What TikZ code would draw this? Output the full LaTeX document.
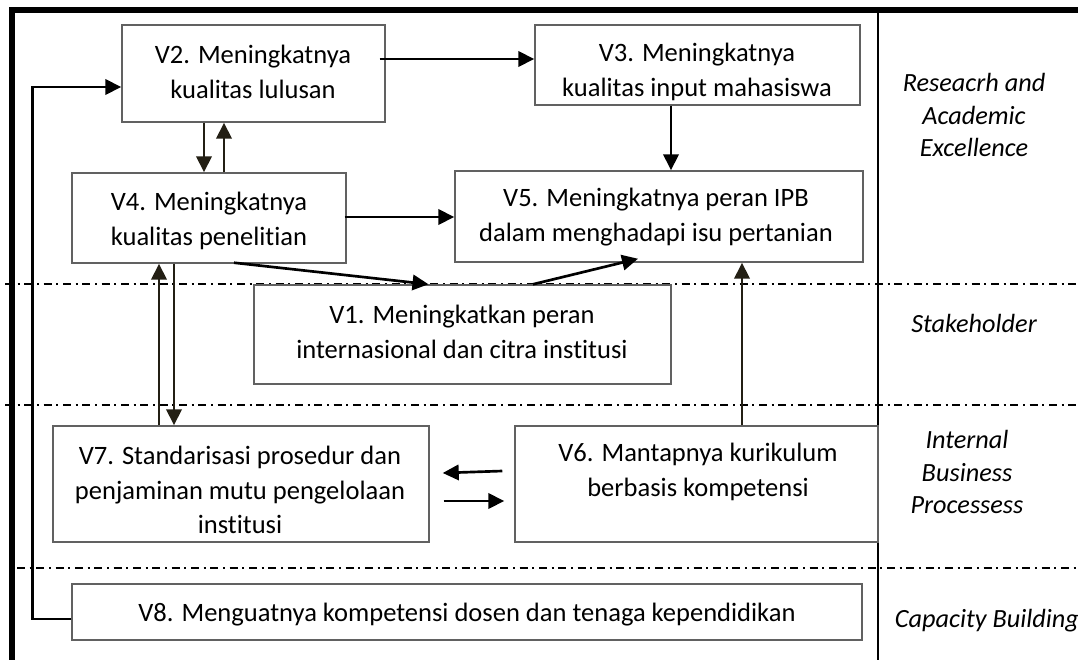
\documentclass[tikz,border=0pt]{standalone}
\usepackage{fontspec}
\setmainfont{Carlito}[Ligatures=NoCommon]
\usetikzlibrary{arrows.meta,fit,calc}
\definecolor{arrowdark}{HTML}{231F14}
\begin{document}
\begin{tikzpicture}[x=0.75pt,y=-0.75pt,
  box/.style={draw=black!62,line width=1.1pt,inner sep=0pt},
  lbl/.style={align=center,inner sep=0pt,font=\fontsize{19.9}{26}\selectfont},
  side/.style={align=center,inner sep=0pt,font=\fontsize{19.7}{24.5}\selectfont\itshape},
  link/.style={line width=2pt,-{Triangle[length=12pt,width=11.5pt]}},
  darklink/.style={line width=2pt,draw=arrowdark,-{Triangle[length=12pt,width=11.5pt,fill=arrowdark]}},
  lane/.style={line width=1.4pt,dash pattern=on 6pt off 3.5pt on 1.5pt off 3.5pt},
]
\useasboundingbox[fill=white] (0,0) rectangle (1078,660);

% perspective lanes
\draw[lane] (5,284) -- (1078,284);
\draw[lane] (5,405) -- (1078,405);
\draw[lane] (17,568) -- (1078,568);

% outer frame and column divider
\draw[line width=3.8pt] (12,660) -- (12,10) -- (1078,10);
\draw[line width=1.7pt] (878,10) -- (878,660);

% objective boxes
\node[box,fit={(122,25) (385,122)}] (v2) {};
\node[box,fit={(535,25) (860,105)}] (v3) {};
\node[box,fit={(72,173) (346,263)}] (v4) {};
\node[box,fit={(455,171) (863,262)}] (v5) {};
\node[box,fit={(254,285) (671,384)}] (v1) {};
\node[box,fit={(53,426) (429,542)}] (v7) {};
\node[box,fit={(515,426) (878,542)}] (v6) {};
\node[box,fit={(72,584) (862,640)}] (v8) {};

% objective texts
\node[lbl] (t2) at (253,72) {V2. Meningkatnya\\kualitas lulusan};
\node[lbl] (t3) at (697,72) {V3. Meningkatnya\\kualitas input mahasiswa};
\node[lbl] (t4) at (209,221) {V4. Meningkatnya\\kualitas penelitian};
\node[lbl] (t5) at (656,217) {V5. Meningkatnya peran IPB\\dalam menghadapi isu pertanian};
\node[lbl] (t1) at (462,332) {V1. Meningkatkan peran\\internasional dan citra institusi};
\node[lbl] (t7) at (240,490) {V7. Standarisasi prosedur dan\\penjaminan mutu pengelolaan\\institusi};
\node[lbl] (t6) at (698,472) {V6. Mantapnya kurikulum\\berbasis kompetensi};
\node[lbl] (t8) at (467,615) {V8. Menguatnya kompetensi dosen dan tenaga kependidikan};

% perspective names
\node[side] (p1) at (974,115) {Reseacrh and\\Academic\\Excellence};
\node[side] (p2) at (974,323) {Stakeholder};
\node[side] (p3) at (967,472) {Internal\\Business\\Processess};
\node[side] (p4) at (987,621) {Capacity Building};

% causal links
\draw[link] ($(v2.east)+(-6,-14.5)$) -- ($(v3.west)+(0,-6)$);
\draw[link] ($(v8.west)+(0,7)$) -- ++(-39,0) |- ($(v2.west)+(0,13.5)$);
\draw[darklink] ($(v2.south)+(-49.5,0)$) -- ($(v4.north)+(-5,0)$);
\draw[darklink] ($(v4.north)+(15,0)$) -- ($(v2.south)+(-29.5,0)$);
\draw[link] ($(v3.south)+(-26.5,0)$) -- ($(v5.north)+(12,0)$);
\draw[link] ($(v4.east)+(-2,-1)$) -- ($(v5.west)+(0,0.5)$);
\draw[link] ($(v4.south)+(25,-1)$) -- ($(v1.north)+(-34,0)$);
\draw[link] ($(v1.north)+(70.5,0)$) -- ($(v5.south)+(-21,-4)$);
\draw[darklink] ($(v6.north)+(45.5,0)$) -- ($(v5.south)+(83,0)$);
\draw[darklink] ($(v7.north)+(-82,0)$) -- ($(v4.south)+(-50,0)$);
\draw[darklink] ($(v4.south)+(-35,0)$) -- ($(v7.north)+(-67,0)$);
\draw[link] ($(v6.west)+(-12,-13)$) -- ($(v7.east)+(13,-11)$);
\draw[link] ($(v7.east)+(14,17)$) -- ($(v6.west)+(-10,17)$);
\end{tikzpicture}
\end{document}
